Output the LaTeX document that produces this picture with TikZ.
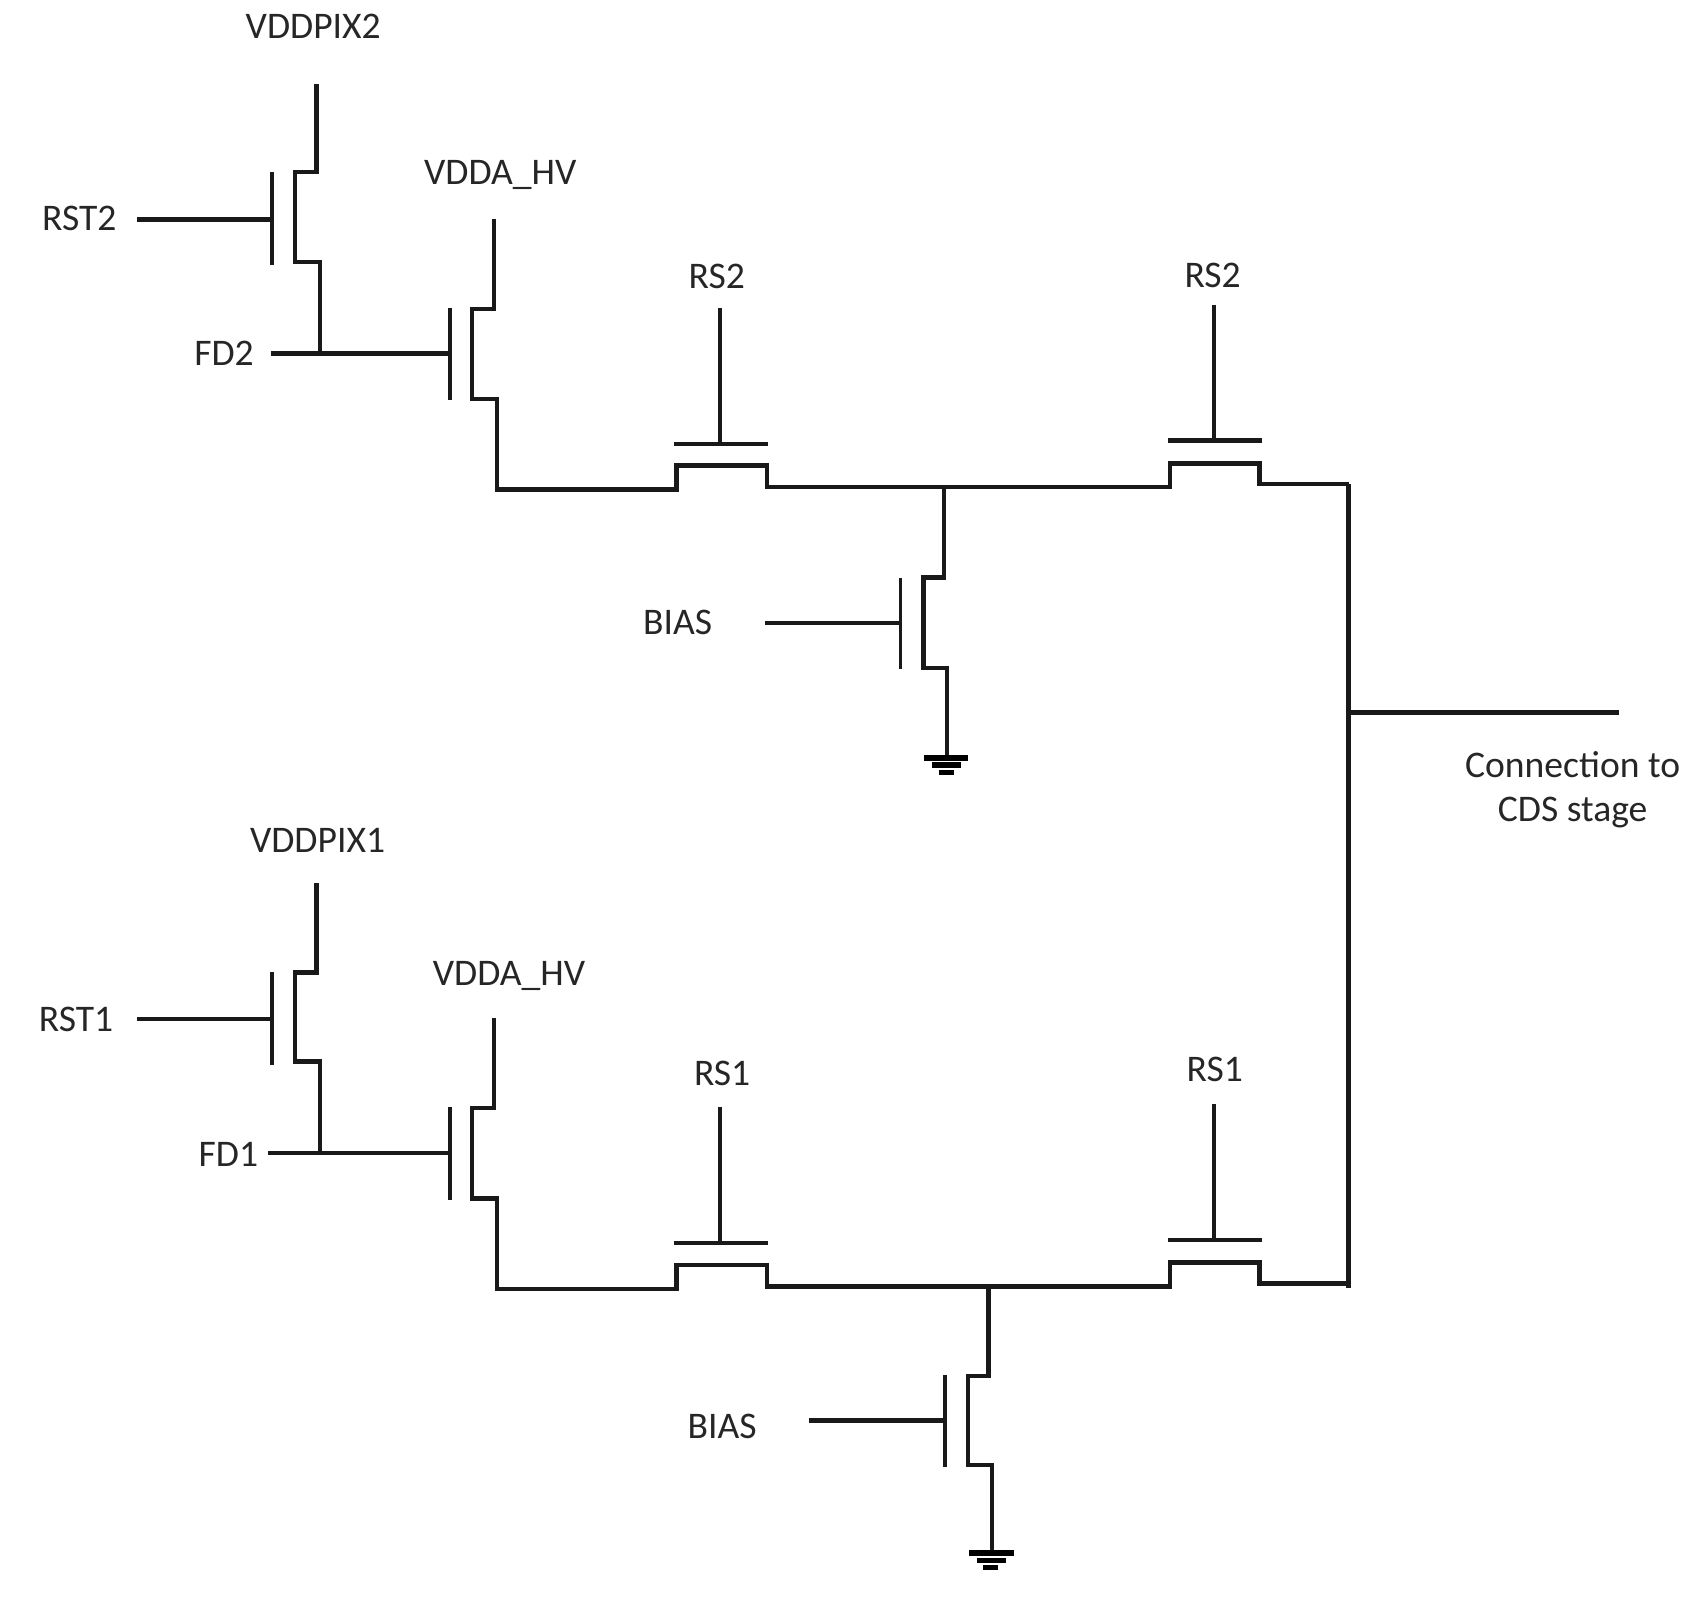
\documentclass[tikz,border=0pt]{standalone}
\usepackage{fontspec}
\setmainfont{Carlito}
\tikzset{
  wire/.style={line width=1.25pt,black!90},
  gatebar/.style={line width=1.05pt,black!90},
  sig/.style={font=\fontsize{10.7}{12.7}\selectfont,inner sep=0pt,text=black!85},
}
\begin{document}
\begin{tikzpicture}[x=0.010876cm,y=-0.010876cm]
    \useasboundingbox (0,0) rectangle (1567.7,1471.1);
    % upper half
    \node[sig] (vddpix2) at (288,24) {VDDPIX2};
    \node[sig] (vdda2) at (460,161) {VDDA\_HV};
    \node[sig] (rst2) at (73,201) {RST2};
    \node[sig] (fd2) at (206,325) {FD2};
    \node[sig] (rsa2) at (659,254) {RS2};
    \node[sig] (rsb2) at (1115,253) {RS2};
    \node[sig] (bias2) at (623,572) {BIAS};
    \coordinate (fdnode2) at (294,325);
    \coordinate (tail2) at (868,448);
    \coordinate (gnd2) at (871,697);
    \coordinate (railtop) at (1240,445);
    % reset and source follower
    \draw[wire] (291,77) -- (291,158) -- (271,158) -- (271,241) -- (294,241) -- (fdnode2);
    \draw[gatebar] (250,158) -- (250,244);
    \draw[wire] (126,202) -- (250,202);
    \draw[wire] (249,325) -- (414,325);
    \draw[gatebar] (414,283) -- (414,368);
    \draw[wire] (454,201) -- (454,284) -- (434,284) -- (434,367) -- (457,367) -- (457,450) -- (622,450)
      -- (622,428) -- (705,428) -- (705,448) -- (tail2) -- (1076,448) -- (1076,426) -- (1158,426)
      -- (1158,445) -- (railtop);
    % row select gates
    \draw[gatebar] (662,283) -- (662,408);
    \draw[wire] (620,408) -- (706,408);
    \draw[gatebar] (1116,280) -- (1116,405);
    \draw[wire] (1074,405) -- (1160,405);
    % bias
    \draw[wire] (tail2) -- (868,531) -- (849,531) -- (849,614) -- (871,614) -- (gnd2);
    \draw[gatebar] (828,531) -- (828,615);
    \draw[wire] (703,573) -- (828,573);
    \draw[line width=1.5pt] (850,697) -- (890,697);
    \draw[line width=1.5pt] (857,703.5) -- (884,703.5);
    \draw[line width=1.5pt] (863,710) -- (877,710);
    % output
    \coordinate (railtap) at (1240,655);
    \coordinate (railbot) at (1240,1184);
    \coordinate (outend) at (1489,655);
    \draw[wire] (railtop) -- (railtap) -- (railbot);
    \draw[wire] (railtap) -- (outend);
    \node[sig,align=center] (cds) at (1446,726) {Connection to\\CDS stage};
    % lower half
    \node[sig] (vddpix1) at (292,773) {VDDPIX1};
    \node[sig] (vdda1) at (468,897) {VDDA\_HV};
    \node[sig] (rst1) at (70,937) {RST1};
    \node[sig] (fd1) at (210,1061) {FD1};
    \node[sig] (rsa1) at (664,987) {RS1};
    \node[sig] (rsb1) at (1117,983) {RS1};
    \node[sig] (bias1) at (664,1312) {BIAS};
    \coordinate (fdnode1) at (294,1060);
    \coordinate (tail1) at (909,1183);
    \coordinate (gnd1) at (912,1428);
    \draw[wire] (291,812) -- (291,894) -- (271,894) -- (271,976) -- (294,976) -- (fdnode1);
    \draw[gatebar] (250,894) -- (250,979);
    \draw[wire] (126,937) -- (250,937);
    \draw[wire] (246,1060) -- (414,1060);
    \draw[gatebar] (414,1018) -- (414,1103);
    \draw[wire] (454,936) -- (454,1019) -- (434,1019) -- (434,1102) -- (457,1102) -- (457,1185) -- (622,1185)
      -- (622,1163) -- (705,1163) -- (705,1183) -- (tail1) -- (1076,1183) -- (1076,1161) -- (1158,1161)
      -- (1158,1180) -- (1240,1180);
    \draw[gatebar] (662,1018) -- (662,1143);
    \draw[wire] (620,1143) -- (706,1143);
    \draw[gatebar] (1116,1015) -- (1116,1140);
    \draw[wire] (1074,1140) -- (1160,1140);
    \draw[wire] (tail1) -- (909,1265) -- (890,1265) -- (890,1347) -- (912,1347) -- (gnd1);
    \draw[gatebar] (869,1264) -- (869,1349);
    \draw[wire] (744,1306) -- (869,1306);
    \draw[line width=1.5pt] (891,1428) -- (932,1428);
    \draw[line width=1.5pt] (898,1434.5) -- (925,1434.5);
    \draw[line width=1.5pt] (904,1441) -- (918,1441);
\end{tikzpicture}
\end{document}
